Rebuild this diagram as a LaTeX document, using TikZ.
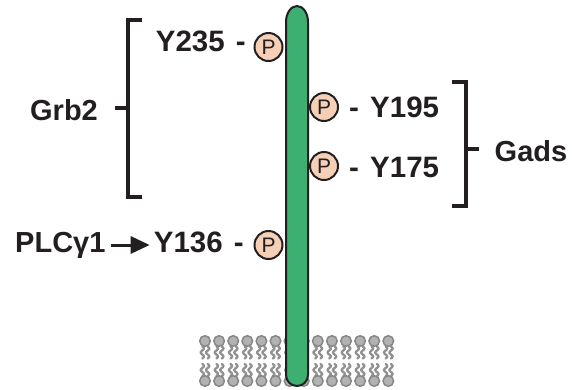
\documentclass[tikz,border=0pt]{standalone}
\usepackage{fontspec}
\setmainfont{Liberation Sans}
\usetikzlibrary{arrows.meta}

\definecolor{ink}{RGB}{35,31,32}
\definecolor{chain}{RGB}{60,175,113}
\definecolor{phos}{RGB}{245,208,182}
\definecolor{headfill}{RGB}{178,178,178}
\definecolor{headline}{RGB}{135,135,135}
\definecolor{tail}{RGB}{145,145,145}

\tikzset{
  site/.style={font=\fontsize{29.5bp}{34bp}\selectfont\bfseries, text=ink, inner sep=0pt},
  group/.style={font=\fontsize{29bp}{34bp}\selectfont\bfseries, text=ink, inner sep=0pt},
  phospho/.style={circle, draw=ink, line width=2bp, fill=phos, minimum size=28bp, inner sep=0pt,
    font=\fontsize{21bp}{24bp}\selectfont, text=ink},
  bracket/.style={draw=ink, line width=3.8bp, line join=miter, line cap=butt},
  lipidhead/.style={draw=headline, fill=headfill, line width=1.5bp},
  lipidtail/.style={draw=tail, line width=2.3bp, line cap=round},
}

\begin{document}
\begin{tikzpicture}[x=1bp,y=-1bp]
\useasboundingbox (0,0) rectangle (572,389);

% lipid bilayer
\foreach \i in {0,...,13}{
  \pgfmathsetmacro\cx{205+14.1*\i}
  \foreach \dx in {-2.7,2.7}{
    \draw[lipidtail] plot[variable=\t, domain=0:12, samples=20]
      ({\cx+\dx+1.6*sin(\t*45)},{346.5+\t});
    \draw[lipidtail] plot[variable=\t, domain=0:12, samples=20]
      ({\cx+\dx+1.6*sin(\t*45)},{364+\t});
  }
  \draw[lipidhead] (\cx,341) circle[radius=5.3];
  \draw[lipidhead] (\cx,381) circle[radius=5.3];
}

% transmembrane chain
\draw[draw=ink, fill=chain, line width=2bp]
  (286,22) -- (286,375)
  arc[start angle=180, end angle=0, x radius=11, y radius=11]
  -- (308,22)
  arc[start angle=0, end angle=-180, x radius=11, y radius=16]
  -- cycle;

% phosphotyrosines
\node[phospho] (p235) at (268.5,47) {P};
\node[phospho] (p195) at (324,107) {P};
\node[phospho] (p175) at (324,166) {P};
\node[phospho] (p136) at (268.5,245) {P};

% residue labels
\node[site, anchor=base east] (y235) at (246,51) {Y235\hspace{3bp} -};
\node[site, anchor=base west] (y195) at (349,117) {-\hspace{3bp} Y195};
\node[site, anchor=base west] (y175) at (349,177) {-\hspace{3bp} Y175};
\node[site, anchor=base east] (y136) at (244,252) {Y136\hspace{3bp} -};

% binding partners
\node[group, anchor=base] (grb2) at (64,120) {Grb2};
\node[group, anchor=base] (gads) at (531,161) {Gads};
\node[group, anchor=base west] (plc) at (15,252) {PLCγ1};

\draw[draw=ink, line width=3bp, -{Triangle[length=19bp,width=17bp]}]
  ([xshift=5bp,yshift=7bp]plc.base east) -- ([xshift=-4bp,yshift=7bp]y136.base west);

% brackets
\draw[bracket] (142,20) -- (128,20) -- (128,197) -- (142,197);
\draw[bracket] (128,108) -- (115,108);
\draw[bracket] (452,82) -- (466,82) -- (466,206) -- (452,206);
\draw[bracket] (466,149) -- (479,149);
\end{tikzpicture}
\end{document}
